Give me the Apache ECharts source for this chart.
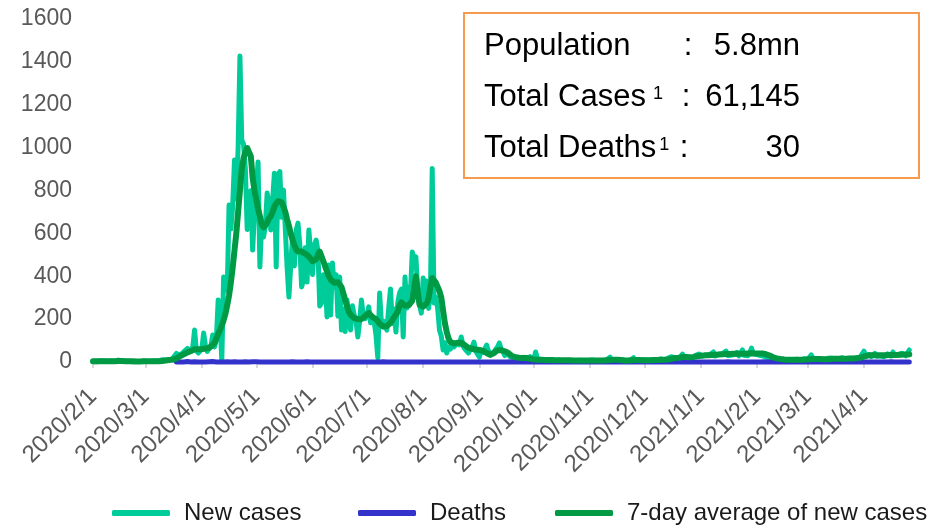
<!DOCTYPE html>
<html>
<head>
<meta charset="utf-8">
<script src="https://cdn.jsdelivr.net/npm/echarts@6/dist/echarts.min.js"></script>
<style>
  html, body { margin: 0; padding: 0; background: #fff; }
  #chart { width: 948px; height: 525px; }
</style>
</head>
<body>
<div id="chart"></div>
<script>
// Daily series start date (one value per day from here on)
const startDate = '2020/2/1';

// Daily new cases
const newCases = [
  // 2020 Feb
  2, 3, 1, 4, 6, 2, 5, 7, 3, 2, 5, 4, 3, 8, 9, 3, 4, 3, 3, 1, 3, 2, 1, 3, 2, 1, 2, 3, 5,
  // Mar
  2, 2, 2, 3, 2, 5, 2, 5, 12, 10, 6, 9, 13, 9, 14, 17,
  23, 40, 48, 32, 40, 47, 54, 63, 49, 52, 70, 149, 52, 42, 47,
  // Apr
  60, 135, 74, 49, 65, 75, 126, 70, 106, 289, 198, 5, 396, 386, 334, 732, 620, 728, 942, 760,
  1000, 1427, 1035, 1016, 900, 618, 640, 799, 522, 690,
  // May
  690, 933, 443, 657, 583, 632, 788, 741, 616, 753, 881, 443, 876, 888, 675, 802, 793, 443, 303, 451,
  583, 448, 614, 648, 548, 350, 383, 533, 373, 616, 506,
  // Jun
  408, 544, 569, 517, 261, 275, 407, 386, 210, 452, 219, 462, 347, 407, 214, 396, 149, 247, 142, 289,
  218, 149, 262, 218, 191, 117, 191, 289, 213, 202,
  // Jul
  215, 257, 183, 214, 187, 126, 19, 322, 179, 191, 200, 149, 250, 341, 180, 247, 140, 275, 322, 340,
  117, 396, 252, 350, 320, 513, 480, 490, 330, 266, 228,
  // Aug
  392, 300, 378, 250, 320, 903, 275, 303, 250, 149, 120, 56, 90, 42, 70, 60, 86, 70, 65, 90,
  80, 117, 75, 60, 56, 42, 60, 70, 93, 50, 45,
  // Sep
  23, 55, 45, 60, 79, 50, 40, 33, 45, 60, 70, 89, 60, 50, 30, 42, 35, 25, 28, 20,
  25, 18, 15, 20, 14, 22, 18, 15, 25, 20,
  // Oct
  12, 47, 15, 10, 12, 14, 8, 10, 9, 7, 10, 8, 6, 5, 9, 11, 4, 10, 5, 6, 3, 9, 7, 10, 6, 4, 8, 11, 3, 5, 7,
  // Nov
  5, 9, 4, 7, 8, 6, 10, 4, 6, 9, 13, 23, 7, 5, 8, 6, 5, 6, 10, 4, 6, 9, 7, 10, 20, 5, 8, 4, 6, 10,
  // Dec
  6, 9, 12, 8, 5, 10, 7, 9, 11, 14, 8, 10, 12, 18, 15, 25, 33, 17, 19, 14, 22, 37, 15, 18, 20, 25, 16, 21, 30, 24, 37,
  // 2021 Jan
  37, 28, 33, 30, 26, 35, 40, 47, 28, 31, 36, 29, 38, 44, 51, 30, 27, 33, 39, 35, 45, 28, 42, 56, 31, 36, 29, 40, 65, 38, 34,
  // Feb
  35, 41, 30, 38, 27, 24, 20, 17, 14, 12, 16, 10, 11, 9, 13, 8, 12, 10, 9, 14, 11, 8, 13, 10, 9, 12, 15, 11,
  // Mar
  12, 18, 33, 14, 10, 16, 13, 11, 15, 9, 12, 17, 14, 19, 23, 13, 11, 16, 12, 20, 14, 10, 15, 18, 12, 16, 22, 19, 17, 24, 21,
  // Apr
  51, 30, 28, 35, 25, 32, 40, 27, 33, 29, 36, 24, 30, 38, 31, 28, 47, 33, 26, 35, 30, 41, 47, 29, 38, 56
];

// 7-day average of new cases
const avg7 = [
  // 2020 Feb
  3, 3, 3, 3, 3, 3, 4, 4, 4, 4, 4, 4, 4, 5, 5, 5, 5, 5, 4, 4, 3, 3, 3, 3, 2, 2, 2, 2, 3,
  // Mar
  3, 3, 3, 3, 3, 3, 3, 3, 4, 5, 6, 7, 8, 9, 10, 11, 13, 17, 22, 27, 32,
  36, 40, 44, 48, 51, 53, 60, 62, 60, 58,
  // Apr
  60, 62, 63, 64, 66, 72, 80, 90, 110, 130, 150, 170, 195, 225, 265, 310, 370, 440, 520, 600,
  700, 800, 900, 950, 980, 998, 1005, 960, 860, 800,
  // May
  760, 715, 680, 640, 628, 635, 650, 670, 680, 700, 725, 740, 750, 755, 745, 725, 700, 665, 635, 600,
  570, 545, 525, 515, 520, 515, 508, 505, 500, 492, 485,
  // Jun
  470, 465, 480, 500, 515, 520, 470, 445, 440, 400, 385, 380, 370, 368, 372, 378, 350, 320, 290, 260,
  235, 220, 212, 205, 202, 200, 198, 200, 205, 215,
  // Jul
  222, 228, 220, 210, 205, 200, 190, 178, 170, 165, 163, 168, 175, 182, 195, 210, 222, 235, 265, 278,
  270, 262, 260, 265, 275, 285, 340, 400, 330, 268, 260,
  // Aug
  258, 265, 275, 300, 350, 392, 385, 370, 350, 330, 300, 240, 180, 140, 110, 93, 86, 86, 88, 90,
  92, 90, 85, 78, 70, 66, 64, 62, 60, 58, 57,
  // Sep
  56, 55, 52, 48, 42, 36, 33, 35, 42, 50, 55, 56, 55, 52, 50, 48, 42, 35, 28, 24,
  22, 21, 20, 19, 19, 19, 19, 17, 15, 13,
  // Oct
  12, 12, 11, 10, 10, 10, 9, 9, 9, 9, 9, 8, 8, 8, 8, 8, 8, 8, 8, 8, 8, 8, 7, 7, 7, 7, 7, 7, 7, 7, 7,
  // Nov
  7, 7, 7, 7, 7, 7, 7, 7, 8, 8, 8, 9, 10, 10, 10, 10, 9, 9, 8, 7, 7, 7, 7, 8, 9, 9, 9, 9, 8, 8,
  // Dec
  8, 8, 8, 8, 8, 9, 9, 9, 10, 10, 10, 11, 11, 12, 13, 15, 17, 19, 20, 20, 21, 23, 23, 23, 22, 22, 23, 24, 25, 27, 28,
  // 2021 Jan
  29, 30, 31, 31, 32, 32, 33, 34, 34, 35, 35, 35, 36, 36, 37, 37, 37, 37, 38, 38, 38, 38, 38, 39, 39, 39, 40, 40, 41, 41, 40,
  // Feb
  40, 40, 40, 40, 38, 36, 33, 30, 26, 22, 19, 17, 15, 14, 13, 12, 12, 11, 11, 11, 11, 11, 11, 11, 11, 11, 12, 12,
  // Mar
  12, 13, 14, 14, 14, 14, 14, 14, 14, 13, 13, 13, 14, 14, 15, 15, 15, 15, 15, 15, 15, 15, 16, 16, 16, 16, 17, 18, 19, 20, 22,
  // Apr
  25, 28, 30, 31, 32, 32, 32, 32, 32, 32, 32, 32, 32, 32, 33, 33, 33, 33, 33, 33, 34, 34, 35, 35, 35, 36
];

// Deaths: reporting starts on deathsFrom (0 on days not listed)
const deathsFrom = '2020/3/18';
const deathDates = [
  '2020/3/24', '2020/3/28', '2020/4/5', '2020/4/7', '2020/4/10', '2020/4/15', '2020/4/19', '2020/4/22',
  '2020/4/25', '2020/4/29', '2020/5/1', '2020/5/8', '2020/5/14', '2020/5/21', '2020/5/29', '2020/6/15',
  '2020/7/10', '2020/8/4', '2020/9/18', '2020/10/18', '2020/11/27', '2020/12/27', '2021/1/16', '2021/2/5',
  '2021/2/15', '2021/3/7', '2021/3/27', '2021/4/16'
];
const deathCounts = [2, 1, 1, 2, 1, 1, 1, 1, 1, 1, 1, 1, 1, 1, 1, 1, 1, 1, 1, 1, 1, 1, 1, 1, 1, 1, 1, 1];

// Value axis ticks
const yMin = 0, yMax = 1600, yStep = 200;

// Summary box lines
const boxLabels = ['Population', 'Total Cases', 'Total Deaths'];
const boxNotes = ['', '1', '1'];
const boxValues = ['5.8mn', '61,145', '30'];

const seriesNames = ['New cases', 'Deaths', '7-day average of new cases'];
const seriesColors = ['#00CC99', '#3333CC', '#009944'];

// ---- build categories ----
const [sy, sm, sd] = startDate.split('/').map(Number);
const fmt = (d) => d.getUTCFullYear() + '/' + (d.getUTCMonth() + 1) + '/' + d.getUTCDate();
const dates = newCases.map((_, i) => fmt(new Date(Date.UTC(sy, sm - 1, sd + i))));

const deathsStart = dates.indexOf(deathsFrom);
const deaths = dates.map((_, i) => (i < deathsStart ? null : 0));
deathDates.forEach((d, k) => {
  const i = dates.indexOf(d);
  if (i >= 0) deaths[i] = deathCounts[k];
});

const isMonthStart = (i) => !!dates[i] && dates[i].split('/')[2] === '1';

const FONT = "'Liberation Sans', Arial, Helvetica, sans-serif";
const chart = echarts.init(document.getElementById('chart'), null, { renderer: 'canvas' });

function lineSeries(name, data, color, width, z) {
  return {
    name, type: 'line', data, z,
    showSymbol: false, symbol: 'none', smooth: false, clip: false,
    connectNulls: false,
    lineStyle: { color, width, cap: 'round', join: 'round' },
    itemStyle: { color },
    emphasis: { disabled: true }
  };
}

const legendCommon = {
  icon: 'roundRect', itemWidth: 58, itemHeight: 6, top: 496, selectedMode: false,
  textStyle: { fontSize: 24, color: '#1a1a1a', fontFamily: FONT, padding: [0, 0, 0, 9] }
};

// summary box
const boxFont = '31px ' + FONT;
const measure = document.createElement('canvas').getContext('2d');
measure.font = boxFont;
const boxX = 464, boxY = 13, boxW = 455, boxH = 165;
const textX = 484, valueRight = 800;
const rowY = [46, 97, 148];
const colonX = [688, 686, 684];
const noteGap = [0, 7, 3];
const graphics = [
  { type: 'rect', shape: { x: boxX, y: boxY, width: boxW, height: boxH },
    style: { fill: '#ffffff', stroke: '#F59A4F', lineWidth: 2 }, z: 10 }
];
boxLabels.forEach((t, k) => {
  graphics.push({ type: 'text', z: 11, style: { x: textX, y: rowY[k], text: t, font: boxFont, fill: '#000', textAlign: 'left', textVerticalAlign: 'middle' } });
  if (boxNotes[k]) {
    const w = measure.measureText(t).width;
    graphics.push({ type: 'text', z: 11, style: { x: textX + w + noteGap[k], y: rowY[k] - 12, text: boxNotes[k], font: '18px ' + FONT, fill: '#000', textAlign: 'left', textVerticalAlign: 'top' } });
  }
  graphics.push({ type: 'text', z: 11, style: { x: colonX[k], y: rowY[k], text: ':', font: boxFont, fill: '#000', textAlign: 'center', textVerticalAlign: 'middle' } });
  graphics.push({ type: 'text', z: 11, style: { x: valueRight, y: rowY[k], text: boxValues[k], font: boxFont, fill: '#000', textAlign: 'right', textVerticalAlign: 'middle' } });
});

chart.setOption({
  animation: false,
  backgroundColor: '#ffffff',
  textStyle: { fontFamily: FONT },
  grid: { left: 93, right: 38.7, top: 19, bottom: 163, containLabel: false, outerBoundsMode: 'none' },
  xAxis: {
    type: 'category', data: dates, boundaryGap: false,
    axisLine: { show: true, lineStyle: { color: '#d9d9d9', width: 2 } },
    axisTick: { show: true, interval: (i) => isMonthStart(i), length: 6, lineStyle: { color: '#d9d9d9', width: 2 } },
    axisLabel: { interval: (i) => isMonthStart(i), rotate: 45, fontSize: 24, color: '#595959', margin: 31,
                 fontFamily: FONT, hideOverlap: false },
    splitLine: { show: false }
  },
  yAxis: {
    type: 'value', min: yMin, max: yMax, interval: yStep,
    axisLine: { show: false }, axisTick: { show: false }, splitLine: { show: false },
    axisLabel: { fontSize: 23, color: '#595959', margin: 21, fontFamily: FONT, formatter: (v) => String(v) }
  },
  legend: [
    Object.assign({ data: [seriesNames[0]], left: 107 }, legendCommon),
    Object.assign({ data: [seriesNames[1]], left: 353 }, legendCommon),
    Object.assign({ data: [seriesNames[2]], left: 550 }, legendCommon)
  ],
  series: [
    lineSeries(seriesNames[0], newCases, seriesColors[0], 5, 2),
    lineSeries(seriesNames[1], deaths, seriesColors[1], 5, 3),
    lineSeries(seriesNames[2], avg7, seriesColors[2], 6, 4)
  ],
  graphic: graphics
});
</script>
</body>
</html>
